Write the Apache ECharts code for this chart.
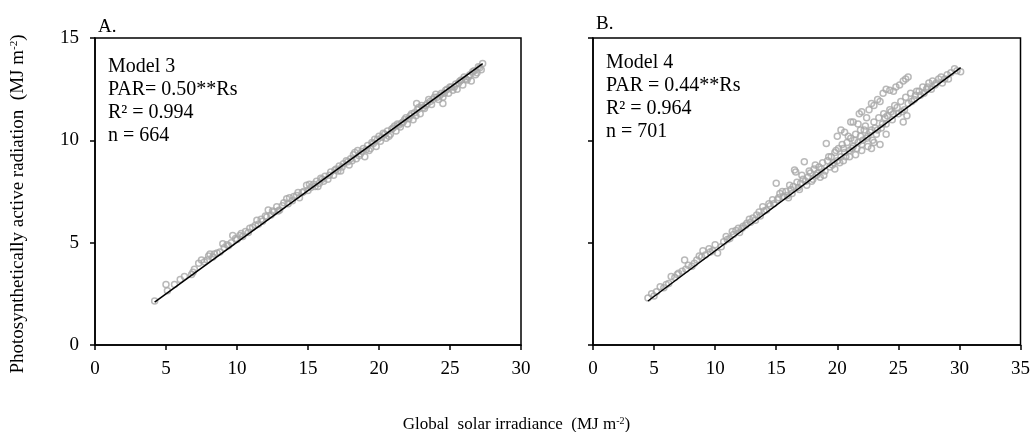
<!DOCTYPE html>
<html>
<head>
<meta charset="utf-8">
<script src="https://cdn.jsdelivr.net/npm/echarts@6/dist/echarts.min.js"></script>
<style>
  html, body { margin: 0; padding: 0; background: #fff; }
  #main { width: 1033px; height: 432px; }
</style>
</head>
<body>
<div id="main"></div>
<script>
// Panel A (Model 3): global solar irradiance vs PAR
var rsA = [4.2, 5.0, 5.1, 6.3, 6.8, 6.9, 7.3, 7.5, 7.7, 8.0, 8.1, 8.3, 8.6, 9.0, 9.1, 9.4, 9.7, 9.9,
  10.2, 10.4, 10.6, 10.9, 11.1, 11.4, 11.5, 11.8, 12.0, 12.2, 12.4, 12.6, 12.8, 13.0, 13.2, 13.5,
  13.6, 13.9, 14.2, 14.4, 14.6, 14.9, 15.0, 15.2, 15.5, 15.6, 15.8, 16.0, 16.2, 16.4, 16.6, 16.8,
  17.0, 17.2, 17.3, 17.5, 17.7, 17.9, 18.0, 18.2, 18.4, 18.5, 18.7, 18.9, 19.0, 19.2, 19.4, 19.5,
  19.7, 19.8, 20.0, 20.1, 20.3, 20.5, 20.6, 20.8, 21.0, 21.2, 21.3, 21.5, 21.7, 21.9, 22.0, 22.2,
  22.4, 22.5, 22.65, 22.7, 22.9, 23.0, 23.2, 23.4, 23.5, 23.7, 23.9, 24.0, 24.2, 24.4, 24.5, 24.5,
  24.7, 24.9, 25.0, 25.2, 25.4, 25.5, 25.7, 25.9, 26.0, 26.2, 26.4, 26.5, 26.7, 26.9, 27.0, 27.2, 27.3,
  5.6, 6.0, 7.0, 7.9, 8.4, 8.8, 9.3, 9.6, 10.0, 10.3, 10.8, 11.3, 11.7, 12.1, 12.5, 12.9, 13.3, 13.7,
  14.0, 14.3, 14.7, 15.1, 15.4, 15.7, 15.9, 16.1, 16.5, 16.9, 17.1, 17.4, 17.8, 18.1, 18.3, 18.6,
  18.8, 19.1, 19.3, 19.6, 19.9, 20.2, 20.4, 20.7, 20.9, 21.1, 21.4, 21.6, 21.8, 22.1, 22.3, 22.6,
  22.8, 23.1, 23.3, 23.6, 23.8, 24.1, 24.3, 24.6, 24.8, 25.1, 25.3, 25.6, 25.8, 26.1, 26.3, 26.6,
  26.8, 27.1];
var parA = [2.15, 2.95, 2.65, 3.35, 3.45, 3.55, 4.0, 4.15, 4.05, 4.35, 4.45, 4.3, 4.5, 4.95, 4.75, 4.85, 5.35, 5.2,
  5.35, 5.3, 5.55, 5.7, 5.75, 6.1, 5.9, 6.05, 6.3, 6.6, 6.35, 6.5, 6.75, 6.6, 6.8, 7.15,
  6.9, 7.05, 7.3, 7.2, 7.45, 7.8, 7.55, 7.7, 7.75, 8.0, 7.9, 8.1, 8.25, 8.1, 8.45, 8.3,
  8.6, 8.75, 8.5, 8.85, 9.0, 8.8, 9.1, 9.3, 9.1, 9.5, 9.35, 9.6, 9.2, 9.75, 9.6, 9.9,
  10.05, 9.7, 10.2, 9.95, 10.35, 10.1, 10.45, 10.3, 10.6, 10.45, 10.8, 10.65, 10.9, 11.1, 10.8, 11.2,
  11.0, 11.35, 11.8, 11.5, 11.3, 11.7, 11.55, 11.8, 12.0, 11.75, 12.1, 12.25, 12.0, 12.3, 12.1, 11.8,
  12.45, 12.3, 12.6, 12.45, 12.75, 12.5, 12.9, 12.7, 13.1, 12.95, 13.2, 12.9, 13.4, 13.3, 13.6, 13.45, 13.75,
  2.95, 3.2, 3.7, 4.15, 4.45, 4.55, 4.9, 5.0, 5.15, 5.45, 5.5, 5.85, 6.15, 6.25, 6.55, 6.55, 6.95, 7.2,
  7.25, 7.45, 7.5, 7.85, 7.85, 7.75, 8.15, 8.0, 8.3, 8.55, 8.5, 8.7, 8.95, 9.0, 9.4, 9.25,
  9.45, 9.55, 9.5, 9.85, 10.05, 10.15, 10.3, 10.2, 10.55, 10.7, 10.75, 10.85, 11.0, 11.05, 11.3, 11.2,
  11.6, 11.6, 11.7, 11.9, 12.0, 12.1, 12.2, 12.3, 12.5, 12.6, 12.6, 12.8, 12.95, 13.0, 13.1, 13.35,
  13.2, 13.55];
var fitXA = [4.2, 27.3];
var fitYA = [2.1, 13.75];

// Panel B (Model 4)
var rsB = [4.5, 4.8, 5.0, 5.5, 6.0, 6.4, 6.7, 7.0, 7.3, 7.5, 7.8, 8.1, 8.5, 8.9, 9.2, 9.5, 9.8, 10.2,
  10.5, 10.9, 11.2, 11.5, 11.7, 12.0, 12.3, 12.6, 12.9, 13.1, 13.4, 13.7, 13.9, 14.2, 14.5, 14.8,
  15.0, 15.1, 15.3, 15.6, 15.8, 16.0, 16.2, 16.4, 16.5, 16.6, 16.8, 17.0, 17.2, 17.3, 17.5, 17.6,
  17.8, 18.0, 18.1, 18.3, 18.5, 18.6, 18.8, 19.0, 19.1, 19.2, 19.4, 19.5, 19.7, 19.8, 20.0, 20.1,
  20.3, 20.4, 20.6, 20.6, 20.8, 21.0, 21.1, 21.1, 21.3, 21.5, 21.7, 21.7, 21.8, 21.9, 22.1, 22.3,
  22.5, 22.6, 22.8, 22.8, 23.0, 23.2, 23.4, 23.5, 23.6, 23.75, 23.8, 24.0, 24.3, 24.3, 24.5, 24.7,
  25.0, 25.1, 25.2, 25.4, 25.5, 25.6, 25.8, 25.8, 26.0, 26.3, 26.5, 26.8, 27.0, 27.3, 27.5, 27.8,
  28.0, 28.3, 28.5, 28.8, 29.0, 29.3, 29.6, 30.1,
  5.2, 5.8, 6.2, 6.9, 7.6, 8.3, 8.7, 9.0, 9.6, 10.0, 10.7, 11.0, 11.4, 11.9, 12.2, 12.5, 12.8, 13.3,
  13.6, 14.0, 14.4, 14.7, 15.2, 15.5, 15.9, 16.1, 16.3, 16.7, 16.9, 17.1, 17.4, 17.7, 17.9, 18.2,
  18.4, 18.7, 18.9, 19.3, 19.6, 19.9, 20.2, 20.5, 20.7, 20.9, 21.2, 21.4, 21.6, 21.9, 22.0, 22.2,
  22.4, 22.7, 22.9, 23.1, 23.3, 23.7, 23.9, 24.1, 24.4, 24.6, 24.9, 25.3, 25.7, 26.1, 26.4, 26.7,
  27.1, 27.4, 27.7, 28.1, 28.6, 29.1, 29.8,
  20.0, 20.3, 21.3, 22.0, 22.4, 23.0, 23.3, 24.0, 24.6, 24.8, 25.4, 25.6,
  19.8, 20.5, 21.0, 21.5, 22.0, 22.5, 22.8, 23.0, 23.5, 24.0];
var parB = [2.3, 2.5, 2.4, 2.85, 2.95, 3.35, 3.3, 3.5, 3.6, 4.15, 3.9, 3.85, 4.15, 4.3, 4.4, 4.7, 4.6, 4.5,
  4.8, 5.3, 5.2, 5.4, 5.6, 5.5, 5.8, 5.95, 6.0, 6.2, 6.35, 6.3, 6.75, 6.6, 6.8, 6.9,
  7.9, 7.1, 7.4, 7.25, 7.5, 7.2, 7.6, 7.75, 8.55, 8.45, 7.7, 7.9, 8.1, 8.95, 7.8, 8.2,
  8.4, 8.1, 8.6, 8.3, 8.7, 8.2, 8.9, 8.5, 9.85, 9.0, 8.7, 9.2, 8.9, 9.4, 9.0, 9.6,
  9.2, 9.8, 10.4, 9.4, 9.9, 9.5, 10.9, 10.1, 9.7, 10.3, 10.8, 9.9, 11.3, 10.5, 10.0, 10.7,
  10.2, 11.5, 11.8, 10.5, 10.9, 10.3, 11.1, 11.9, 10.6, 12.3, 11.3, 10.8, 12.45, 11.5, 11.0, 11.7,
  11.3, 12.7, 11.9, 10.9, 11.5, 12.1, 13.1, 11.8, 12.3, 12.0, 12.4, 12.2, 12.6, 12.5, 12.8, 12.9,
  12.7, 13.0, 13.1, 13.0, 13.2, 13.3, 13.5, 13.35,
  2.6, 2.8, 3.0, 3.45, 3.7, 4.0, 4.35, 4.6, 4.55, 4.9, 5.05, 5.15, 5.55, 5.7, 5.7, 5.85, 6.15, 6.1,
  6.5, 6.55, 6.9, 7.1, 7.2, 7.5, 7.3, 7.8, 7.4, 7.95, 7.6, 8.3, 8.0, 8.5, 8.0, 8.8,
  8.4, 8.6, 8.3, 9.2, 8.8, 9.5, 8.9, 9.6, 9.2, 10.2, 9.6, 10.0, 9.6, 10.2, 9.8, 10.5,
  10.1, 10.4, 10.0, 10.6, 10.5, 10.8, 11.1, 11.2, 11.4, 11.3, 11.6, 11.4, 11.2, 11.9, 12.2, 12.4,
  12.3, 12.6, 12.5, 12.8, 12.8, 13.0, 13.4,
  10.2, 10.5, 10.9, 11.4, 11.1, 11.7, 12.0, 12.5, 12.4, 12.6, 12.9, 13.0,
  8.6, 9.0, 9.2, 9.3, 9.5, 9.7, 9.6, 9.9, 9.8, 10.3];
var fitXB = [4.5, 30.1];
var fitYB = [2.15, 13.55];

var yTicks = [0, 5, 10, 15];
var notesA = ['Model 3', 'PAR= 0.50**Rs', 'R\u00b2 = 0.994', 'n = 664'];
var notesB = ['Model 4', 'PAR = 0.44**Rs', 'R\u00b2 = 0.964', 'n = 701'];

function pairs(xs, ys) {
  var out = [];
  for (var i = 0; i < xs.length; i++) {
    out.push([xs[i], ys[i]]);
  }
  return out;
}

var serif = 'Liberation Serif';
var black = '#000';

function xAxisOf(gi, maxV) {
  return {
    gridIndex: gi, type: 'value', min: 0, max: maxV, interval: 5,
    axisLine: { onZero: false, lineStyle: { color: black, width: 1.5 } },
    axisTick: { show: true, length: 5, lineStyle: { color: black, width: 1.5 } },
    axisLabel: { color: black, fontFamily: serif, fontSize: 19, margin: 15 },
    splitLine: { show: false }
  };
}
function yAxisOf(gi, showLabel) {
  return {
    gridIndex: gi, type: 'value', min: yTicks[0], max: yTicks[yTicks.length - 1], interval: 5,
    axisLine: { onZero: false, lineStyle: { color: black, width: 1.5 } },
    axisTick: { show: true, length: 5, lineStyle: { color: black, width: 1.5 } },
    axisLabel: { show: showLabel, color: black, fontFamily: serif, fontSize: 19, margin: 16 },
    splitLine: { show: false }
  };
}

function scatterOf(idx, data) {
  return {
    type: 'scatter', xAxisIndex: idx, yAxisIndex: idx, data: data,
    symbol: 'circle', symbolSize: 6,
    itemStyle: { color: 'rgba(0,0,0,0)', borderColor: '#a8a8a8', borderWidth: 1.5 },
    z: 2
  };
}
function fitOf(idx, data) {
  return {
    type: 'line', xAxisIndex: idx, yAxisIndex: idx, data: data,
    showSymbol: false, lineStyle: { color: black, width: 1.5 }, z: 3
  };
}

function noteText(lines, left, top) {
  return {
    type: 'text', left: left, top: top,
    style: { text: lines.join('\n'), fill: black, font: '20px "' + serif + '"', lineHeight: 23 }
  };
}

var richName = {
  a: { fontFamily: serif, fontSize: 19, fill: black, color: black },
  s: { fontFamily: serif, fontSize: 11, fill: black, color: black, verticalAlign: 'top', padding: [0, 0, 8, 0] }
};

var chart = echarts.init(document.getElementById('main'));
chart.setOption({
  animation: false,
  backgroundColor: '#fff',
  grid: [
    { left: 95, right: 512, top: 38, bottom: 87, show: true, borderColor: black, borderWidth: 1.5 },
    { left: 593, right: 12, top: 38, bottom: 87, show: true, borderColor: black, borderWidth: 1.5 }
  ],
  xAxis: [xAxisOf(0, 30), xAxisOf(1, 35)],
  yAxis: [yAxisOf(0, true), yAxisOf(1, false)],
  title: {
    text: '{a|Global  solar irradiance  (MJ m}{s|-2}{a|)}',
    left: 'center', top: 411,
    textStyle: {
      fontWeight: 'normal',
      rich: {
        a: { fontFamily: serif, fontSize: 17, fontWeight: 'normal', color: black },
        s: { fontFamily: serif, fontSize: 10, fontWeight: 'normal', color: black, verticalAlign: 'top', padding: [0, 0, 8, 0] }
      }
    }
  },
  graphic: [
    {
      type: 'text', x: 18, y: 204, rotation: Math.PI / 2,
      style: {
        text: '{a|Photosynthetically active radiation  (MJ m}{s|-2}{a|)}',
        rich: richName, align: 'center', verticalAlign: 'middle'
      }
    },
    { type: 'text', left: 98, top: 18, style: { text: 'A.', fill: black, font: '19px "' + serif + '"' } },
    { type: 'text', left: 596, top: 15, style: { text: 'B.', fill: black, font: '19px "' + serif + '"' } },
    noteText(notesA, 108, 55),
    noteText(notesB, 606, 51)
  ],
  series: [
    scatterOf(0, pairs(rsA, parA)),
    fitOf(0, pairs(fitXA, fitYA)),
    scatterOf(1, pairs(rsB, parB)),
    fitOf(1, pairs(fitXB, fitYB))
  ]
});
</script>
</body>
</html>
